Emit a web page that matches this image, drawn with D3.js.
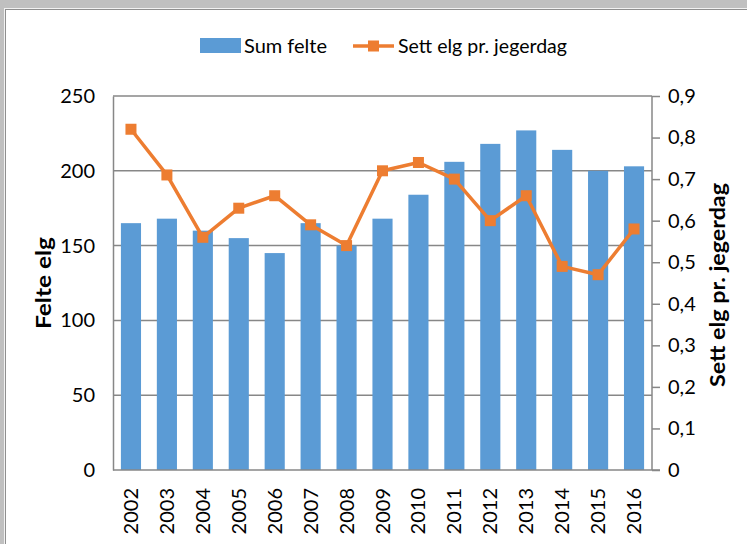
<!DOCTYPE html>
<html>
<head>
<style>
body { margin: 0; background: #c0c0c0; }
svg { display: block; }
svg text { font-family: Lato, "Open Sans", sans-serif; fill: #000; }
</style>
</head>
<body>
<div id="container"></div>
<script src="https://d3js.org/d3.v7.min.js"></script>
<script>
const years = ['2002','2003','2004','2005','2006','2007','2008','2009','2010','2011','2012','2013','2014','2015','2016'];
const sumFelte = [165, 168, 160, 155, 145, 165, 150, 168, 184, 206, 218, 227, 214, 200, 203];
const settElg = [0.82, 0.71, 0.56, 0.63, 0.66, 0.59, 0.54, 0.72, 0.74, 0.70, 0.60, 0.66, 0.49, 0.47, 0.58];
const leftTicks = [0, 50, 100, 150, 200, 250];
const rightTicks = [0, 0.1, 0.2, 0.3, 0.4, 0.5, 0.6, 0.7, 0.8, 0.9];

const width = 747, height = 544;
const plot = {left: 113, right: 652, top: 96, bottom: 470};
const blue = '#5b9bd5', orange = '#ed7d31', grid = '#878787';

const svg = d3.select('#container').append('svg')
    .attr('width', width).attr('height', height);

// white chart frame with a bevel edge
svg.append('rect').attr('x', 4).attr('y', 8).attr('width', width).attr('height', height).attr('fill', '#f2f2f2');
svg.append('rect').attr('x', 5).attr('y', 9).attr('width', width).attr('height', height).attr('fill', '#8f8f8f');
svg.append('rect').attr('x', 6).attr('y', 10).attr('width', width).attr('height', height).attr('fill', '#fff');

const x = d3.scaleBand().domain(years).range([plot.left, plot.right]).paddingInner(0.44).paddingOuter(0.22);
const yL = d3.scaleLinear().domain([0, 250]).range([plot.bottom, plot.top]);
const yR = d3.scaleLinear().domain([0, 0.9]).range([plot.bottom, plot.top]);

// gridlines
svg.append('g').selectAll('line').data(leftTicks.slice(1)).join('line')
    .attr('x1', plot.left).attr('x2', plot.right)
    .attr('y1', d => yL(d)).attr('y2', d => yL(d))
    .attr('stroke', grid).attr('stroke-width', 1.5);

// bars
svg.append('g').selectAll('rect').data(sumFelte).join('rect')
    .attr('x', (d, i) => x(years[i]))
    .attr('width', x.bandwidth())
    .attr('y', d => yL(d))
    .attr('height', d => yL(0) - yL(d))
    .attr('fill', blue);

// left axis
const axL = svg.append('g').attr('transform', `translate(${plot.left},0)`)
    .call(d3.axisLeft(yL).tickValues(leftTicks).tickSize(0).tickPadding(18));
axL.select('.domain').attr('stroke', grid).attr('stroke-width', 1.5);
axL.selectAll('text').attr('font-size', 20).attr('font-family', 'Lato, sans-serif');

// right axis
const fmt = d => d === 0 ? '0' : d3.format('.1f')(d).replace('.', ',');
const axR = svg.append('g').attr('transform', `translate(${plot.right},0)`)
    .call(d3.axisRight(yR).tickValues(rightTicks).tickFormat(fmt).tickSize(8).tickPadding(8));
axR.select('.domain').attr('stroke', grid).attr('stroke-width', 1.5).attr('d', `M0,${plot.top}V${plot.bottom}`);
axR.selectAll('.tick line').attr('stroke', grid).attr('stroke-width', 1.5);
axR.selectAll('text').attr('font-size', 20).attr('font-family', 'Lato, sans-serif');

// bottom axis
const axB = svg.append('g').attr('transform', `translate(0,${plot.bottom})`)
    .call(d3.axisBottom(x).tickSize(0).tickPadding(0));
axB.select('.domain').attr('stroke', grid).attr('stroke-width', 1.5).attr('d', `M${plot.left},0H${plot.right + 8}`);
axB.selectAll('text')
    .attr('font-size', 20).attr('font-family', 'Lato, sans-serif')
    .attr('text-anchor', 'end')
    .attr('transform', 'translate(0,18) rotate(-90)')
    .attr('dy', '0.35em').attr('y', 0).attr('x', 0);

// line series
const line = d3.line().x((d, i) => x(years[i]) + x.bandwidth() / 2).y(d => yR(d));
svg.append('path').datum(settElg)
    .attr('d', line).attr('fill', 'none')
    .attr('stroke', orange).attr('stroke-width', 3.5).attr('stroke-linejoin', 'round');
svg.append('g').selectAll('rect').data(settElg).join('rect')
    .attr('x', (d, i) => x(years[i]) + x.bandwidth() / 2 - 5.5)
    .attr('y', d => yR(d) - 5.5)
    .attr('width', 11).attr('height', 11)
    .attr('fill', orange);

// axis titles
svg.append('text')
    .attr('transform', `translate(51,${(plot.top + plot.bottom) / 2}) rotate(-90)`)
    .attr('text-anchor', 'middle')
    .attr('font-size', 20).attr('font-weight', 'bold')
    .attr('textLength', 92).attr('lengthAdjust', 'spacingAndGlyphs')
    .text('Felte elg');
svg.append('text')
    .attr('transform', `translate(725,${(plot.top + plot.bottom) / 2 + 2}) rotate(-90)`)
    .attr('text-anchor', 'middle')
    .attr('font-size', 20).attr('font-weight', 'bold')
    .attr('textLength', 204).attr('lengthAdjust', 'spacingAndGlyphs')
    .text('Sett elg pr. jegerdag');

// legend
const lg = svg.append('g');
lg.append('rect').attr('x', 200).attr('y', 38).attr('width', 41).attr('height', 15).attr('fill', blue);
lg.append('text').attr('x', 244).attr('y', 46).attr('dy', '0.35em').attr('font-size', 20).text('Sum felte');
lg.append('line').attr('x1', 353).attr('x2', 394).attr('y1', 46).attr('y2', 46)
    .attr('stroke', orange).attr('stroke-width', 3.5);
lg.append('rect').attr('x', 368).attr('y', 40.5).attr('width', 11).attr('height', 11).attr('fill', orange);
lg.append('text').attr('x', 398).attr('y', 46).attr('dy', '0.35em').attr('font-size', 20)
    .attr('textLength', 169).attr('lengthAdjust', 'spacingAndGlyphs')
    .text('Sett elg pr. jegerdag');
</script>
</body>
</html>
